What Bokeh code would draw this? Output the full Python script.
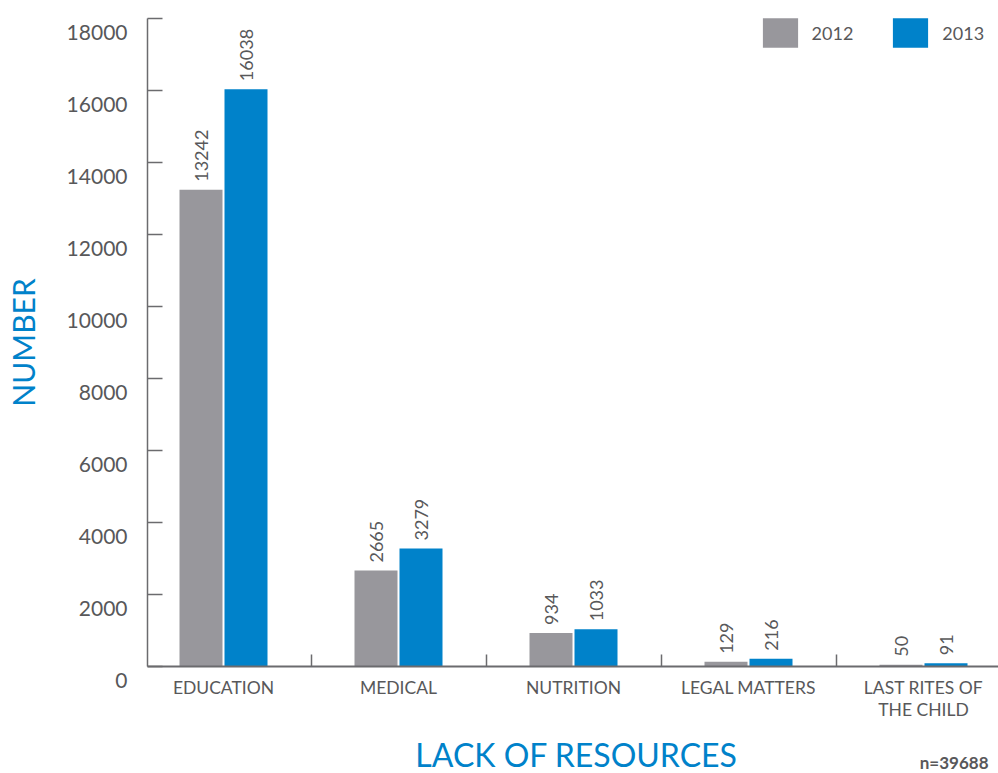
import math
from bokeh.plotting import figure
from bokeh.models import (ColumnDataSource, FixedTicker, Range1d, Label,
                          Legend, LegendItem, LinearAxis)
from bokeh.core.properties import value
from bokeh.embed import file_html
from bokeh.resources import INLINE

categories = ["EDUCATION", "MEDICAL", "NUTRITION", "LEGAL MATTERS", "LAST RITES OF\nTHE CHILD"]
values_2012 = [13242, 2665, 934, 129, 50]
values_2013 = [16038, 3279, 1033, 216, 91]
y_ticks = [0, 2000, 4000, 6000, 8000, 10000, 12000, 14000, 16000, 18000]
series_names = ["2012", "2013"]
note = "n=39688"
x_title = "LACK OF RESOURCES"
y_title = "NUMBER"

GRAY = "#98979c"
BLUE = "#0082ca"
TEXT = "#58585a"
AXIS = "#6b6b6e"
FONT = "Lato"

# pixel layout of the reference (the plot frame covers the whole canvas)
W, H = 998, 773
AX_L, AX_T, AX_B = 147, 18, 666
CAT_PX = 175.0                      # pixels between category centres
FIRST_CAT_PX = 223.0                # pixel x of the first category centre

px_per_unit = (AX_B - AX_T) / y_ticks[-1]
y_max = y_ticks[-1]
y_top = y_max + AX_T / px_per_unit
y_low = -(H - AX_B) / px_per_unit

x_low = -FIRST_CAT_PX / CAT_PX
x_high = (W - FIRST_CAT_PX) / CAT_PX
x_axis_start = (AX_L - FIRST_CAT_PX) / CAT_PX

idx = list(range(len(categories)))
bw = 43 / CAT_PX
off = 22.5 / CAT_PX

src12 = ColumnDataSource(dict(x=[i - off for i in idx], top=values_2012,
                              lab=[str(v) for v in values_2012]))
src13 = ColumnDataSource(dict(x=[i + off for i in idx], top=values_2013,
                              lab=[str(v) for v in values_2013]))

p = figure(width=W, height=H, output_backend="svg", toolbar_location=None,
           x_range=Range1d(x_low, x_high), y_range=Range1d(y_low, y_top),
           y_axis_location=None,
           min_border_left=0, min_border_right=0, min_border_top=0, min_border_bottom=0)
p.outline_line_color = None
p.grid.grid_line_color = None
p.background_fill_color = "white"
p.border_fill_color = "white"

r12 = p.vbar(x="x", top="top", bottom=0, width=bw, source=src12, color=GRAY, line_color=None)
r13 = p.vbar(x="x", top="top", bottom=0, width=bw, source=src13, color=BLUE, line_color=None)

for s in (src12, src13):
    p.text(x="x", y="top", text="lab", source=s, angle=math.pi / 2, y_offset=-8,
           text_align="left", text_baseline="middle", text_font=value(FONT),
           text_font_size="18px", text_color=TEXT)

# x axis, drawn at y = 0
xa = p.xaxis[0]
xa.fixed_location = 0
xa.bounds = (x_axis_start, x_high)
xa.ticker = FixedTicker(ticks=idx, minor_ticks=[i + 0.5 for i in idx])
xa.major_label_overrides = {i: c for i, c in zip(idx, categories)}
xa.major_tick_in = 0
xa.major_tick_out = 0
xa.minor_tick_in = 12
xa.minor_tick_out = 0
xa.minor_tick_line_color = AXIS
xa.minor_tick_line_width = 1.5
xa.axis_line_color = AXIS
xa.axis_line_width = 2
xa.major_label_text_font = FONT
xa.major_label_text_font_size = "17.5px"
xa.major_label_text_color = TEXT
xa.major_label_text_line_height = 1.06
xa.major_label_standoff = 10

# y axis: line and tick marks
ya = LinearAxis(ticker=FixedTicker(ticks=y_ticks), bounds=(y_ticks[0], y_ticks[-1]),
                fixed_location=x_axis_start)
ya.major_tick_in = 15
ya.major_tick_out = 0
ya.minor_tick_line_color = None
ya.major_tick_line_color = AXIS
ya.major_tick_line_width = 1.5
ya.axis_line_color = AXIS
ya.axis_line_width = 1.5
ya.major_label_overrides = {v: "" for v in y_ticks}
ya.major_label_standoff = 0
p.add_layout(ya, "left")

# y axis tick labels, set 14px below their ticks as in the reference
shift = 14 / px_per_unit
p.extra_y_ranges = {"labels": Range1d(y_low + shift, y_top + shift)}
yl = LinearAxis(y_range_name="labels", ticker=FixedTicker(ticks=y_ticks),
                bounds=(y_ticks[0], y_ticks[-1]), fixed_location=x_axis_start)
yl.axis_line_color = None
yl.major_tick_line_color = None
yl.minor_tick_line_color = None
yl.major_tick_out = 0
yl.major_tick_in = 0
yl.major_label_standoff = 20
yl.major_label_text_font = FONT
yl.major_label_text_font_size = "21px"
yl.major_label_text_color = TEXT
p.add_layout(yl, "left")

# titles (screen units measured from the frame's bottom-left = canvas bottom-left)
p.add_layout(Label(x=22.5, y=H - (AX_T + AX_B) / 2, x_units="screen", y_units="screen",
                   angle=math.pi / 2, text=y_title, text_align="center",
                   text_baseline="middle", text_font=FONT, text_font_size="30px",
                   text_color=BLUE))
p.add_layout(Label(x=576, y=19.5, x_units="screen", y_units="screen",
                   text=x_title, text_align="center", text_baseline="middle",
                   text_font=FONT, text_font_size="32px", text_color=BLUE))
p.add_layout(Label(x=988, y=11, x_units="screen", y_units="screen",
                   text=note, text_align="right", text_baseline="middle",
                   text_font=FONT, text_font_size="17px", text_font_style="bold",
                   text_color=TEXT))

gw, gh = 44, 37
legend_top = AX_T - 0.1 * gh
legend = Legend(items=[LegendItem(label=series_names[0], renderers=[r12]),
                       LegendItem(label=series_names[1], renderers=[r13])],
                location=(762 - 0.1 * gw, H - (legend_top + gh)),
                orientation="horizontal")
legend.glyph_width = gw
legend.glyph_height = gh
legend.label_standoff = 10
legend.spacing = 35
legend.padding = 0
legend.margin = 0
legend.border_line_color = None
legend.background_fill_alpha = 0
legend.label_text_font = FONT
legend.label_text_font_size = "18px"
legend.label_text_color = TEXT
p.add_layout(legend)

open("out.html", "w").write(file_html(p, INLINE))
